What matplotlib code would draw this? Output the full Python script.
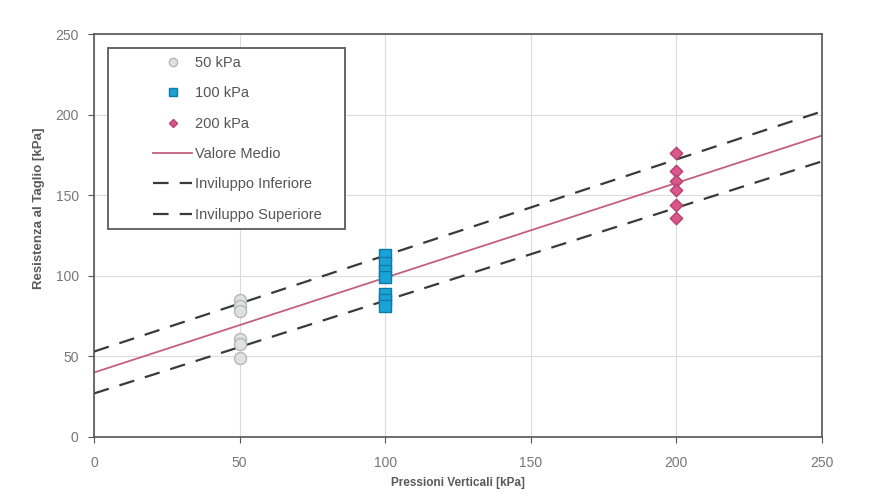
import matplotlib
matplotlib.use("Agg")
import matplotlib.pyplot as plt
from matplotlib.patches import Rectangle
from matplotlib.lines import Line2D

plt.rcParams['font.family'] = ['Liberation Sans', 'DejaVu Sans']

# Data
x50 = [50, 50, 50, 50, 50, 50]
y50 = [85, 81, 78, 61, 58, 49]
x100 = [100] * 7
y100 = [113, 108, 103, 99, 89, 85, 81]
x200 = [200] * 6
y200 = [176, 165, 159, 153, 144, 136]

line_x = [0, 250]
mean_y = [40, 187]
lower_y = [27, 171]
upper_y = [53, 202]

xticks = [0, 50, 100, 150, 200, 250]
yticks = [0, 50, 100, 150, 200, 250]

fig = plt.figure(figsize=(8.69, 4.97), dpi=100)
ax = fig.add_axes([94/869, 1-437/497, 728/869, 403/497])

ax.set_xlim(0, 250)
ax.set_ylim(0, 250)
ax.set_xticks(xticks)
ax.set_yticks(yticks)
ax.grid(True, color='#dcdcdc', lw=0.8)
ax.set_axisbelow(True)

dash = (0, (7, 5))
ax.plot(line_x, mean_y, color='#c4607e', lw=1.3, label='Valore Medio', zorder=2)
ax.plot(line_x, lower_y, color='#3a3a3a', lw=1.6, ls=dash, label='Inviluppo Inferiore', zorder=2)
ax.plot(line_x, upper_y, color='#3a3a3a', lw=1.6, ls=dash, label='Inviluppo Superiore', zorder=2)

ax.scatter(x50, y50, marker='o', s=75, facecolor='#dfe2e0', edgecolor='#b5b8b6', lw=1.0, zorder=3, label='50 kPa')
ax.scatter(x100, y100, marker='s', s=75, facecolor='#1aa3d6', edgecolor='#137aa8', lw=1.0, zorder=3, label='100 kPa')
ax.scatter(x200, y200, marker='D', s=40, facecolor='#d9578a', edgecolor='#b8406e', lw=1.0, zorder=3, label='200 kPa')

for s in ax.spines.values():
    s.set_color('#555555')
    s.set_linewidth(1.2)
ax.tick_params(direction='out', length=4, color='#555555', labelsize=10, labelcolor='#777777')
ax.tick_params(axis='x', pad=10)
ax.tick_params(axis='y', pad=7)

ax.set_xlabel('Pressioni Verticali [kPa]', fontsize=8.5, color='#5a5a5a', fontweight='bold')
ax.set_ylabel('Resistenza al Taglio [kPa]', fontsize=9.5, color='#5a5a5a', fontweight='bold')
ax.xaxis.set_label_coords(0.5, -0.1)
ax.yaxis.set_label_coords(-0.067, 0.568)

# Legend frame
ax.add_patch(Rectangle((14/728, 208/403), 237/728, 181/403, transform=ax.transAxes,
                       facecolor='white', edgecolor='#666666', lw=1.4, zorder=4))

handles = [
    Line2D([], [], marker='o', ls='none', markersize=6, markerfacecolor='#dfe2e0', markeredgecolor='#b5b8b6'),
    Line2D([], [], marker='s', ls='none', markersize=6, markerfacecolor='#1aa3d6', markeredgecolor='#137aa8'),
    Line2D([], [], marker='D', ls='none', markersize=4.5, markerfacecolor='#d9578a', markeredgecolor='#b8406e'),
    Line2D([], [], color='#c4607e', lw=1.3),
    Line2D([], [], color='#3a3a3a', lw=1.6, ls=(0, (7, 5))),
    Line2D([], [], color='#3a3a3a', lw=1.6, ls=(0, (7, 5))),
]
labels = ['50 kPa', '100 kPa', '200 kPa', 'Valore Medio', 'Inviluppo Inferiore', 'Inviluppo Superiore']
leg = ax.legend(handles, labels, loc='upper left', bbox_to_anchor=(59/728, 1-22/403),
                frameon=False, fontsize=10.5, handlelength=2.7, handletextpad=0.2,
                labelspacing=1.12, borderpad=0, borderaxespad=0)
leg.set_zorder(5)
for t in leg.get_texts():
    t.set_color('#555555')

fig.savefig('out.png', dpi=100, facecolor='white')
